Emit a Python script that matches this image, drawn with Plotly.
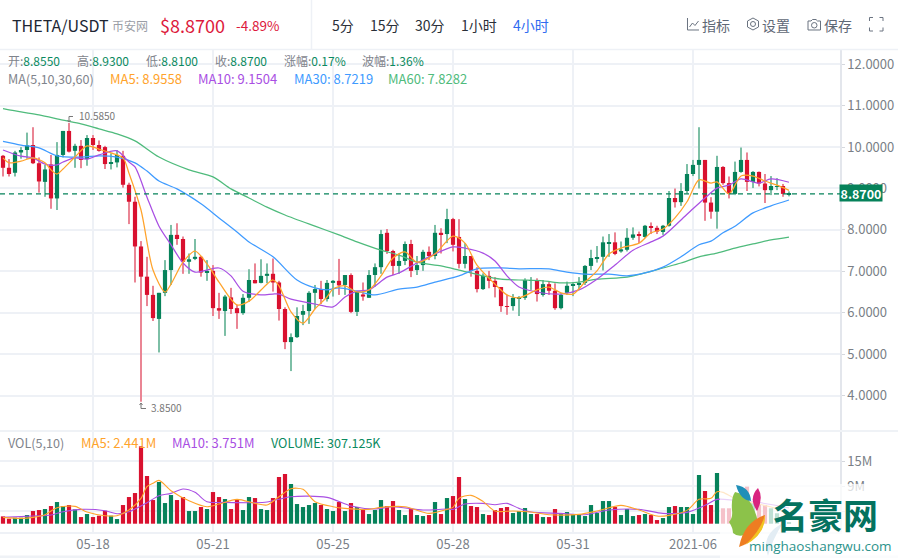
#THETA/USDT 4 hour candles with MA lines and volume
import plotly.graph_objects as go
from plotly.subplots import make_subplots

W = 898
H = 558

bar_index = list(range(132))

opens = [9.79,9.50,9.38,9.87,9.93,10.05,9.61,9.16,9.58,8.76,9.81,10.39,9.91,10.03,9.71,10.22,10.05,10.00,9.60,9.63,
         9.79,9.09,8.68,7.60,6.87,6.43,5.85,6.48,7.03,7.88,7.78,7.23,7.30,7.35,6.97,7.01,6.11,6.04,6.37,6.11,
         5.99,6.36,6.79,6.72,6.89,6.94,6.73,6.09,5.29,5.41,5.95,6.04,6.48,6.57,6.33,6.72,6.77,6.67,6.91,6.02,
         6.44,6.36,6.91,7.10,7.93,7.49,7.13,7.25,7.66,7.03,7.15,7.47,7.37,7.93,7.90,8.26,7.83,7.18,7.37,7.01,
         6.57,6.89,6.77,6.62,6.16,6.16,6.34,6.36,6.77,6.79,6.43,6.69,6.53,6.11,6.48,6.65,6.69,6.72,7.13,7.32,
         7.35,7.68,7.70,7.48,7.52,7.81,7.89,7.83,8.09,8.05,7.95,8.10,8.77,8.67,8.94,9.35,9.57,9.69,8.66,8.44,
         9.52,9.13,8.87,9.40,9.69,9.16,9.40,9.12,8.96,9.05,9.06,8.855]
highs = [9.81,9.71,9.91,10.00,10.35,10.48,9.75,9.57,9.81,10.12,10.39,10.585,10.08,10.17,10.29,10.29,10.16,10.03,9.85,9.93,
         9.91,9.14,8.80,7.73,7.35,6.65,6.48,7.27,8.12,8.16,7.84,7.43,7.78,7.37,7.27,7.15,6.48,6.43,6.60,6.19,
         6.45,7.05,7.19,7.29,7.19,7.31,6.77,6.13,5.50,6.13,6.19,6.52,6.67,6.77,6.79,6.79,7.30,6.91,6.95,6.51,
         6.73,7.03,7.19,8.00,8.02,7.52,7.43,7.72,7.76,7.37,7.52,7.60,8.12,8.04,8.51,8.29,8.26,7.68,7.37,7.10,
         6.95,7.01,6.86,6.62,6.43,6.45,6.40,6.83,6.86,6.83,6.79,6.75,6.71,6.47,6.75,6.73,6.86,7.15,7.52,7.61,
         7.84,7.90,7.94,7.72,8.04,8.06,7.96,8.12,8.18,8.10,8.12,8.94,9.00,9.13,9.59,9.69,10.48,9.69,8.79,9.79,
         9.54,9.29,9.65,9.99,9.87,9.42,9.41,9.35,9.30,9.25,9.11,8.93]
lows = [9.29,9.29,9.29,9.72,9.72,9.59,8.90,8.80,8.51,8.48,9.75,9.87,9.50,9.49,9.55,9.93,9.89,9.47,9.46,9.51,
        9.02,8.14,6.73,3.85,6.16,5.80,5.04,6.40,6.67,7.64,6.94,6.94,7.27,6.87,6.77,5.92,5.85,5.44,5.97,5.61,
        5.95,6.26,6.71,6.71,6.71,6.51,5.81,5.12,4.59,5.39,5.70,5.73,6.09,6.21,6.27,6.39,6.43,6.43,5.99,5.92,
        6.29,6.36,6.63,6.94,7.42,6.91,6.94,7.15,6.86,6.91,7.01,7.27,7.29,7.43,7.68,7.48,7.07,7.07,6.87,6.49,
        6.55,6.59,6.37,6.02,5.95,6.05,5.92,6.31,6.55,6.27,6.39,6.43,6.07,6.08,6.43,6.40,6.55,6.67,7.03,7.21,
        7.02,7.35,7.39,7.45,7.48,7.76,7.68,7.81,7.90,7.90,7.88,8.08,8.54,8.58,8.88,9.30,9.00,8.22,8.27,8.03,
        9.09,8.76,8.84,9.38,8.94,9.01,9.05,8.65,8.84,8.96,8.80,8.81]
closes = [9.50,9.35,9.87,9.93,10.04,9.61,9.17,9.46,8.76,9.81,10.39,9.89,10.03,9.69,10.22,10.05,9.91,9.59,9.62,9.81,
          9.09,8.68,7.60,6.87,6.43,5.87,6.48,7.03,7.88,7.78,7.23,7.29,7.35,6.97,7.01,6.11,6.05,6.39,6.09,5.99,
          6.36,6.79,6.71,6.89,6.94,6.73,6.09,5.29,5.41,5.92,6.04,6.48,6.57,6.33,6.72,6.77,6.66,6.91,6.02,6.51,
          6.39,6.91,7.10,7.90,7.49,7.13,7.25,7.66,7.01,7.15,7.47,7.37,7.93,7.90,8.26,7.64,7.18,7.37,7.01,6.57,
          6.89,6.77,6.62,6.16,6.15,6.36,6.36,6.79,6.79,6.45,6.69,6.53,6.11,6.43,6.65,6.69,6.72,7.13,7.32,7.34,
          7.70,7.70,7.42,7.53,7.81,7.89,7.86,8.10,8.05,7.96,8.10,8.77,8.67,8.94,9.35,9.57,9.69,8.66,8.44,9.52,
          9.13,8.87,9.40,9.69,9.16,9.40,9.12,8.96,9.06,9.06,8.87,8.87]
volumes = [1.76,1.20,1.44,1.44,2.08,3.04,3.28,3.52,4.24,5.20,4.24,4.48,3.44,1.60,2.32,1.60,1.92,3.12,1.92,1.12,
           4.48,6.40,7.36,18.56,11.44,5.68,10.00,4.96,6.88,5.68,6.40,3.04,3.04,4.00,3.52,7.60,6.40,5.92,3.52,5.68,
           3.28,6.40,6.16,3.52,3.28,6.16,11.20,11.92,9.52,4.72,4.00,4.48,4.96,4.48,3.52,3.04,5.20,3.04,4.96,4.00,
           3.28,2.32,3.28,5.68,4.24,5.44,3.28,2.08,3.52,2.08,1.84,2.08,5.20,2.32,6.16,6.64,11.20,5.92,4.24,4.00,
           2.32,2.08,3.28,3.76,4.00,2.56,3.04,3.76,2.32,2.32,1.60,1.60,3.52,2.32,2.80,2.32,2.32,1.84,4.48,2.56,
           5.44,5.44,4.00,2.08,3.52,1.84,2.08,2.32,2.08,0.88,1.36,4.00,4.24,4.00,4.00,2.32,11.68,7.84,4.48,12.16,
           3.70,3.70,5.00,4.00,8.90,5.00,4.50,4.50,3.70,2.50,1.70,0.307]

ma5_x = [0,1,3,5,7,8,9,10,12,14,16,18,20,21,23,25,27,28,30,32,34,36,39,41,44,45,46,48,50,52,54,55,57,59,61,63,65,67,69,72,
         75,77,79,82,84,86,89,91,93,95,97,99,101,103,106,108,110,112,114,116,118,119,121,123,125,127,129,131]
ma5 = [9.74,9.62,9.66,9.74,9.62,9.45,9.35,9.47,9.76,10.03,9.95,9.86,9.74,9.37,8.48,7.03,6.50,6.69,7.22,7.49,7.18,6.74,6.19,6.28,
       6.69,6.79,6.65,6.02,5.75,6.09,6.38,6.57,6.65,6.50,6.55,6.89,7.32,7.47,7.22,7.42,7.85,7.68,7.15,6.69,6.43,6.36,6.55,6.62,
       6.48,6.45,6.74,7.01,7.42,7.56,7.68,7.93,8.02,8.29,8.68,9.21,9.13,9.16,8.87,9.30,9.30,9.18,9.08,8.9558]
ma10_x = [0,3,5,7,9,10,12,14,16,19,21,22,24,26,28,30,32,34,36,38,40,43,45,46,48,52,55,57,59,61,64,66,69,72,75,77,80,82,84,86,
          89,93,96,99,102,105,108,110,113,115,117,119,121,123,126,128,131]
ma10 = [9.93,9.78,9.74,9.59,9.57,9.64,9.74,9.71,9.81,9.91,9.64,9.52,8.79,8.09,7.64,7.20,6.98,7.03,7.08,6.89,6.52,6.43,6.45,6.45,
        6.33,6.21,6.14,6.38,6.52,6.55,6.86,6.96,7.20,7.42,7.59,7.56,7.44,7.25,6.89,6.62,6.50,6.45,6.55,6.81,7.15,7.51,7.71,7.85,
        8.24,8.51,8.77,9.01,9.08,9.23,9.13,9.23,9.1504]
ma30_x = [0,3,6,9,13,16,19,22,24,26,29,33,36,39,41,45,49,52,54,56,59,62,66,69,72,76,79,83,86,91,94,97,101,104,107,110,113,116,118,120,122,125,128,131]
ma30 = [10.14,10.05,9.98,9.79,9.76,9.79,9.76,9.62,9.42,9.18,8.99,8.63,8.29,7.95,7.71,7.35,6.79,6.60,6.55,6.60,6.52,6.43,6.57,6.62,
        6.74,6.89,7.06,7.08,7.06,7.06,6.98,6.93,6.93,6.89,6.96,7.10,7.35,7.64,7.73,7.93,8.09,8.41,8.58,8.7219]
ma60_x = [0,3,6,10,13,16,19,22,26,31,35,38,41,44,47,52,56,59,63,66,69,73,76,80,83,86,90,93,96,99,104,107,110,113,116,119,122,125,128,131]
ma60 = [10.93,10.85,10.78,10.65,10.56,10.44,10.32,10.15,9.76,9.45,9.28,8.99,8.77,8.55,8.36,8.09,7.88,7.71,7.51,7.39,7.22,7.13,7.03,
        6.89,6.81,6.79,6.77,6.72,6.74,6.81,6.86,6.96,7.08,7.20,7.35,7.44,7.56,7.66,7.76,7.8282]

vol_ma5_x = [0,3,5,7,9,12,14,17,19,21,23,24,25,26,28,31,34,36,39,42,44,46,48,50,52,55,57,61,63,67,71,74,75,76,78,80,82,85,88,91,
             96,99,103,106,109,111,114,116,118,119,120,122,125,128,131]
vol_ma5 = [1.52,1.28,1.52,2.16,3.84,4.16,2.80,1.92,1.92,3.28,6.08,8.88,9.68,10.40,7.92,5.52,4.08,4.72,5.84,4.88,4.48,6.48,8.40,8.24,
           5.28,4.08,3.68,3.44,3.92,4.08,2.48,3.44,3.92,6.08,6.80,5.36,3.04,3.04,2.80,2.16,2.24,3.04,4.40,3.28,1.84,2.00,3.20,5.84,
           6.08,7.68,7.52,6.10,5.00,4.00,2.441]
vol_ma10_x = [0,5,8,10,13,17,19,21,24,26,28,30,32,34,37,42,44,48,54,58,62,65,70,74,75,77,80,82,84,86,88,93,97,101,106,110,114,117,119,122,125,128,131]
vol_ma10 = [1.52,1.84,2.08,2.88,3.44,3.12,2.40,2.88,5.04,6.72,7.28,8.32,7.52,5.28,5.12,5.04,5.20,6.48,6.32,4.24,3.52,4.08,3.28,3.52,
            3.44,4.72,4.88,4.56,4.88,3.68,2.80,2.48,2.16,3.28,3.44,2.48,2.72,4.40,5.84,5.60,5.30,4.60,3.751]

date_ticks = [15,35,55,75,95,115]
date_labels = ["05-18","05-21","05-25","05-28","05-31","2021-06"]
price_ticks = [4,5,6,7,8,9,10,11,12]
price_labels = ["4.0000","5.0000","6.0000","7.0000","8.0000","9.0000","10.0000","11.0000","12.0000"]
vol_ticks = [3,9,15]
vol_labels = ["","9M","15M"]

last_price = 8.87

RED = "#d9112f"
GREEN = "#06825a"
RED_PALE = "#ea8594"
GREEN_PALE = "#7dbfa6"
C_MA5 = "#ffa32b"
C_MA10 = "#a94fe3"
C_MA30 = "#3f9bff"
C_MA60 = "#4fbb7c"
GRID = "#eef1f6"
ICON = "#6a7380"
FONT = "Noto Sans CJK SC, Noto Sans, sans-serif"


def px(x):
    return x / W


def py(y):
    return 1 - y / H


def path(*parts):
    #numbers come in x, y pairs of screen pixels, strings are path commands
    out = []
    nums = 0
    for p in parts:
        if isinstance(p, str):
            out.append(p)
        else:
            out.append(str(round(px(p) if nums % 2 == 0 else py(p), 5)))
            nums += 1
    return " ".join(out)


def pshape(d, color=None, fill=None, width=1):
    s = dict(type="path", xref="paper", yref="paper", path=d)
    if fill:
        s.update(fillcolor=fill, line_width=0)
    else:
        s.update(line=dict(color=color, width=width))
    return s


up = [c >= o for o, c in zip(opens, closes)]
body_color = [GREEN if u else RED for u in up]
wick_color = [GREEN_PALE if u else RED_PALE for u in up]

fig = make_subplots(rows=2, cols=1, shared_xaxes=True)

#wicks first, solid bodies on top
fig.add_trace(go.Bar(x=bar_index, y=[h - l for h, l in zip(highs, lows)], base=lows, width=0.34,
                     marker=dict(color=wick_color, line_width=0)), row=1, col=1)
fig.add_trace(go.Bar(x=bar_index, y=[abs(c - o) for o, c in zip(opens, closes)],
                     base=[min(o, c) for o, c in zip(opens, closes)], width=0.7,
                     marker=dict(color=body_color, line_width=0)), row=1, col=1)

for xs, ys, color in [(ma60_x, ma60, C_MA60), (ma30_x, ma30, C_MA30), (ma10_x, ma10, C_MA10), (ma5_x, ma5, C_MA5)]:
    fig.add_trace(go.Scatter(x=xs, y=ys, mode="lines", line=dict(color=color, width=1.25, shape="spline", smoothing=0.8)), row=1, col=1)

fig.add_trace(go.Bar(x=bar_index, y=volumes, width=0.7, marker=dict(color=body_color, line_width=0)), row=2, col=1)
fig.add_trace(go.Scatter(x=vol_ma10_x, y=vol_ma10, mode="lines", line=dict(color=C_MA10, width=1.1, shape="spline", smoothing=0.8)), row=2, col=1)
fig.add_trace(go.Scatter(x=vol_ma5_x, y=vol_ma5, mode="lines", line=dict(color=C_MA5, width=1.1, shape="spline", smoothing=0.8)), row=2, col=1)

fig.update_layout(width=W, height=H, margin=dict(l=0, r=0, t=0, b=0), paper_bgcolor="white", plot_bgcolor="white",
                  barmode="overlay", showlegend=False, font=dict(family=FONT, color="#7a7f87", size=12))

x_range = [-0.5, 139.5]
x_domain = [0, 840 / W]
fig.update_xaxes(range=x_range, domain=x_domain, tickvals=date_ticks, ticktext=date_labels, showgrid=True, gridcolor=GRID, gridwidth=1.5,
                 zeroline=False, ticks="", tickfont=dict(size=13, color="#7a7f87"))
fig.update_xaxes(showticklabels=False, row=1, col=1)
fig.update_xaxes(showticklabels=True, showline=True, linecolor=GRID, linewidth=1.5, row=2, col=1)

fig.update_yaxes(side="right", showgrid=True, gridcolor=GRID, gridwidth=1.5, zeroline=False, showline=True, linecolor="#e3e6ec", linewidth=1.5,
                 ticks="outside", ticklen=3, tickcolor="#d5d8de", tickfont=dict(size=13, color="#7a7f87"))
fig.update_yaxes(domain=[py(430), py(50)], range=[3.167, 12.345], tickvals=price_ticks, ticktext=price_labels, row=1, col=1)
fig.update_yaxes(domain=[py(532), py(432)], range=[-1.99, 22.0], tickvals=vol_ticks, ticktext=vol_labels, row=2, col=1)

shapes = [
    #header rule, pane separator, bottom band
    dict(type="line", xref="paper", yref="paper", x0=0, x1=1, y0=py(49.5), y1=py(49.5), line=dict(color=GRID, width=1.5)),
    dict(type="line", xref="paper", yref="paper", x0=px(311.5), x1=px(311.5), y0=1, y1=py(49.5), line=dict(color=GRID, width=1.5)),
    dict(type="rect", xref="paper", yref="paper", x0=0, x1=1, y0=py(432), y1=py(430), fillcolor="#eff2f6", line_width=0),
    dict(type="rect", xref="paper", yref="paper", x0=0, x1=1, y0=py(558), y1=py(555.5), fillcolor="#eff2f6", line_width=0),
    #last price line
    dict(type="line", xref="x", yref="y", x0=x_range[0], x1=x_range[1], y0=last_price, y1=last_price, line=dict(color=GREEN, width=1.3, dash="5px,4px")),
    #high and low pointers
    pshape(path("M", 73, 116.5, "L", 69, 116.5, "L", 69, 122, "M", 67.5, 120, "L", 69, 122, "L", 70.5, 120), color="#777"),
    pshape(path("M", 146, 408.5, "L", 141, 408.5, "L", 141, 403, "M", 139.5, 405, "L", 141, 403, "L", 142.5, 405), color="#777"),
    #toolbar icons
    pshape(path("M", 687.5, 18, "L", 687.5, 30, "L", 699, 30, "M", 689.5, 27, "L", 692.5, 23, "L", 695, 25.5, "L", 698.5, 21), color=ICON),
    pshape(path("M", 753, 18, "L", 758.5, 21, "L", 758.5, 27, "L", 753, 30, "L", 747.5, 27, "L", 747.5, 21, "Z"), color=ICON),
    dict(type="circle", xref="paper", yref="paper", x0=px(750.5), x1=px(755.5), y0=py(26.5), y1=py(21.5), line=dict(color=ICON, width=1)),
    pshape(path("M", 808, 21, "L", 811, 21, "L", 812.5, 19.5, "L", 816, 19.5, "L", 817.5, 21, "L", 820.5, 21, "L", 820.5, 30, "L", 808, 30, "Z"), color=ICON),
    dict(type="circle", xref="paper", yref="paper", x0=px(811.5), x1=px(817), y0=py(28), y1=py(22.5), line=dict(color=ICON, width=1)),
    pshape(path("M", 869.5, 21, "L", 869.5, 17.5, "L", 873, 17.5, "M", 879.5, 17.5, "L", 883, 17.5, "L", 883, 21,
                "M", 869.5, 27.5, "L", 869.5, 31, "L", 873, 31, "M", 879.5, 31, "L", 883, 31, "L", 883, 27.5), color=ICON),
    #watermark veil, crescent and logo leaves
    dict(type="rect", xref="paper", yref="paper", x0=px(720), x1=1, y0=0, y1=py(484), fillcolor="white", opacity=0.74, line_width=0),
    pshape(path("M", 783, 523, "Q", 760, 535, 768, 556, "Q", 772, 540, 783, 523, "Z"), fill="#e3edf4"),
    pshape(path("M", 735, 492, "Q", 746, 494, 752, 505, "Q", 759, 520, 757, 523, "Q", 750, 528, 745, 535, "Q", 737, 537, 733, 533,
                "Q", 733, 528, 729, 522, "Q", 733, 518, 732, 510, "Q", 731, 498, 735, 492, "Z"), fill="#8cc24a"),
    pshape(path("M", 736, 485, "Q", 750, 487, 751, 501, "Q", 740, 500, 736, 485, "Z"), fill="#1f8fb8"),
    pshape(path("M", 758, 488, "Q", 764, 498, 757, 511, "Q", 748, 498, 758, 488, "Z"), fill="#d9247f"),
    pshape(path("M", 765, 515, "Q", 764, 538, 739, 547, "Q", 744, 522, 765, 515, "Z"), fill="#ee7d22"),
    pshape(path("M", 765, 515, "Q", 766, 534, 745, 545, "Q", 760, 532, 765, 515, "Z"), fill="#f2c522"),
]
fig.update_layout(shapes=shapes)


def label(x, y, text, size=12, color="#7a7f87", anchor="left", family=FONT):
    #annotations carry about 2px of padding on the left
    shift = 2 if anchor == "left" else 0
    fig.add_annotation(xref="paper", yref="paper", x=px(x - shift), y=py(y), text=text, showarrow=False, xanchor=anchor, yanchor="middle",
                       font=dict(size=size, color=color, family=family))


def stat(name, value):
    return f'{name}<span style="color:#0b8a60">{value}</span>'


#title row
label(12, 25, "THETA/USDT", size=16, color="#202633")
label(112, 25, "币安网", size=12, color="#9a9ea6")
label(160, 25, "$8.8700", size=18, color="#dd1a3c")
label(236, 25, "-4.89%", size=13.5, color="#dd1a3c")
for x, t, c in [(332, "5分", "#2a2f38"), (370, "15分", "#2a2f38"), (415, "30分", "#2a2f38"), (461, "1小时", "#2a2f38"), (513, "4小时", "#2f6bf0")]:
    label(x, 25, t, size=14, color=c)
for x, t in [(702, "指标"), (762, "设置"), (824, "保存")]:
    label(x, 25, t, size=14, color="#5f6876")

#ohlc row
for x, name, value in [(8, "开:", "8.8550"), (77, "高:", "8.9300"), (146, "低:", "8.8100"), (215, "收:", "8.8700"), (284, "涨幅:", "0.17%"), (362, "波幅:", "1.36%")]:
    label(x, 60, stat(name, value), size=12, color="#7f848c")

#ma rows
label(8, 79, "MA(5,10,30,60)", size=12.6, color="#7f848c")
label(110, 79, "MA5: 8.9558", size=13, color=C_MA5)
label(198, 79, "MA10: 9.1504", size=13, color=C_MA10)
label(294, 79, "MA30: 8.7219", size=13, color=C_MA30)
label(388, 79, "MA60: 7.8282", size=13, color=C_MA60)
label(8, 442, "VOL(5,10)", size=12.6, color="#7f848c")
label(81, 442, "MA5: 2.441M", size=13, color=C_MA5)
label(172, 442, "MA10: 3.751M", size=13, color=C_MA10)
label(271, 442, "VOLUME: 307.125K", size=12.6, color="#0b8a60")

#high and low values
label(79, 115, "10.5850", size=10, color="#777")
label(151, 407, "3.8500", size=10, color="#777")

#last price tag
fig.add_annotation(xref="paper", yref="y", x=px(861), y=last_price, text="<b>8.8700</b>", showarrow=False, xanchor="center", yanchor="middle", yshift=1,
                   bgcolor=GREEN, width=42, height=16, borderpad=0, font=dict(size=12.5, color="white", family=FONT))

#watermark
label(825, 513, "<b>名豪网</b>", size=35, color="#04725f", anchor="center")
label(820, 546, "minghaoshangwu.com", size=13.5, color="#2c938c", anchor="center", family="Open Sans")

fig.write_html("out.html", config=dict(displayModeBar=False), post_script="document.body.style.margin='0'")
